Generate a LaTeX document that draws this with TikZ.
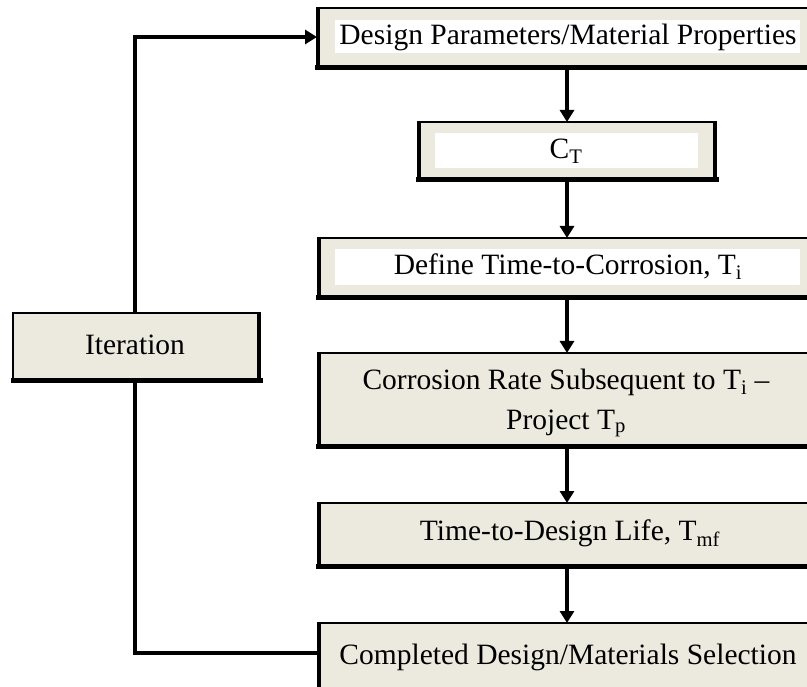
\documentclass[tikz,border=0pt]{standalone}
\usepackage{fontspec}
\setmainfont{Liberation Serif}
\usetikzlibrary{arrows.meta}
\definecolor{boxbeige}{RGB}{236,233,222}
\tikzset{
  x=1pt, y=-1pt,
  fbox/.style={draw=black, line width=1.3pt, fill=boxbeige, inner sep=0pt, outer sep=0pt},
  whitebox/.style={fill=white, draw=none, inner sep=0pt, outer sep=0pt},
  label/.style={inner sep=0pt, font=\fontsize{29.5}{40}\selectfont, align=center},
  shade/.style={line width=5pt, line cap=rect},
  sideshade/.style={line width=3.5pt},
  conn/.style={line width=4pt},
  arr/.style={conn, -{Triangle[length=12pt,width=14pt]}},
}
\begin{document}
\begin{tikzpicture}
\clip (0,0) rectangle (807,687);
\fill[white] (0,0) rectangle (807,687);
% boxes
\node[fbox, minimum width=493pt, minimum height=58pt] (b1) at (563.5,37) {};
\node[fbox, minimum width=298pt, minimum height=56pt] (b2) at (567,150) {};
\node[fbox, minimum width=492pt, minimum height=58pt] (b3) at (564,267) {};
\node[fbox, minimum width=492pt, minimum height=92pt] (b4) at (564,399) {};
\node[fbox, minimum width=492pt, minimum height=62pt] (b5) at (564,534) {};
\node[fbox, minimum width=492pt, minimum height=90pt] (b6) at (564,668) {};
\node[fbox, minimum width=247pt, minimum height=66pt] (it) at (136.5,346) {};
% shadow edges
\foreach \n in {b1,b2,b3,b4,b5,b6,it}
  \draw[shade] ([yshift=-1.5pt]\n.south west) -- ([yshift=-1.5pt]\n.south east);
\foreach \n in {b1,b2,b3,b4,b5,b6}
  \draw[sideshade] ([xshift=1pt]\n.north west) -- ([xshift=1pt]\n.south west);
\foreach \n in {b2,it}
  \draw[sideshade] ([xshift=-1pt]\n.north east) -- ([xshift=-1pt]\n.south east);
% inner white panels
\node[whitebox, minimum width=465pt, minimum height=33pt] (w1) at (567.5,36.5) {};
\node[whitebox, minimum width=263pt, minimum height=35pt] (w2) at (566.5,150.5) {};
\node[whitebox, minimum width=465pt, minimum height=36pt] (w3) at (567.5,267) {};
% texts
\node[label] (t1) at (568,37) {Design Parameters/Material Properties};
\node[label] (t2) at (566,151) {C\textsubscript{T}};
\node[label] (t3) at (568,267) {Define Time-to-Corrosion, T\textsubscript{i}};
\node[label] (t4) at (566,403) {Corrosion Rate Subsequent to T\textsubscript{i} –\\Project T\textsubscript{p}};
\node[label] (t5) at (570,533) {Time-to-Design Life, T\textsubscript{mf}};
\node[label] (t6) at (568,657) {Completed Design/Materials Selection};
\node[label] (t7) at (135,345) {Iteration};
% connectors
\draw[arr] (b2.north |- b1.south) -- (b2.north);
\draw[arr] (b2.south) -- (b2.south |- b3.north);
\draw[arr] (b2.south |- b3.south) -- (b2.south |- b4.north);
\draw[arr] (b2.south |- b4.south) -- (b2.south |- b5.north);
\draw[arr] (b2.south |- b5.south) -- (b2.south |- b6.north);
\coordinate (lb) at (318,653);
\draw[conn] (lb) -| ([xshift=-1.5pt]it.south);
\draw[arr] ([xshift=-1.5pt]it.north) |- (b1.west |- 0,37);
\end{tikzpicture}
\end{document}
